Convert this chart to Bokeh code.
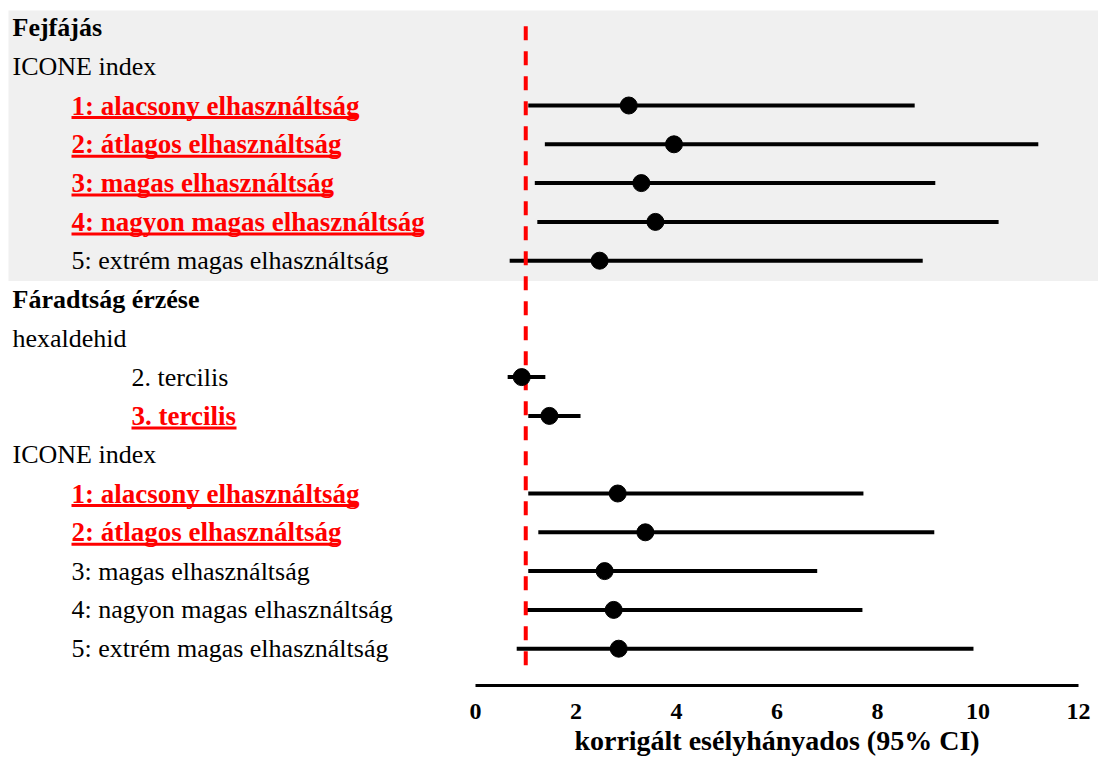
from bokeh.plotting import figure
from bokeh.layouts import row, column
from bokeh.models import Range1d, BoxAnnotation, FixedTicker, ColumnDataSource, Spacer
from bokeh.core.properties import value
from bokeh.embed import file_html
from bokeh.resources import INLINE

# ---------------- data ----------------
labels = [
    "Fejfájás", "ICONE index",
    "1: alacsony elhasználtság", "2: átlagos elhasználtság",
    "3: magas elhasználtság", "4: nagyon magas elhasználtság",
    "5: extrém magas elhasználtság",
    "Fáradtság érzése", "hexaldehid", "2. tercilis", "3. tercilis",
    "ICONE index",
    "1: alacsony elhasználtság", "2: átlagos elhasználtság",
    "3: magas elhasználtság", "4: nagyon magas elhasználtság",
    "5: extrém magas elhasználtság",
]
# label kind: h = bold header, g = group, i = item, t = tercile item
kinds = ["h", "g", "i", "i", "i", "i", "i", "h", "g", "t", "t", "g", "i", "i", "i", "i", "i"]
significant = [False, False, True, True, True, True, False,
               False, False, False, True, False, True, True, False, False, False]

est_rows = [2, 3, 4, 5, 6, 9, 10, 12, 13, 14, 15, 16]
odds_ratio = [3.05, 3.95, 3.30, 3.58, 2.47, 0.92, 1.47, 2.83, 3.38, 2.57, 2.75, 2.85]
ci_low = [1.05, 1.38, 1.18, 1.23, 0.68, 0.64, 1.05, 1.05, 1.25, 1.05, 0.98, 0.82]
ci_high = [8.74, 11.20, 9.15, 10.41, 8.90, 1.39, 2.09, 7.72, 9.13, 6.80, 7.70, 9.91]

x_ticks = [0, 2, 4, 6, 8, 10, 12]
reference_value = 1
x_title = "korrigált esélyhányados (95% CI)"

# ---------------- layout ----------------
FIG_W = 1098
MAIN_H = 683
AXIS_H = 79
AXIS_BORDER = 77
X0_PX = 475.0          # page pixel of x = 0
PX_PER_UNIT = 50.25
AXIS_LEFT = 455        # where the axis panel starts
x_start = -X0_PX / PX_PER_UNIT
x_end = (FIG_W - X0_PX) / PX_PER_UNIT
ROW_PX = 38.8
ROW0_PX = 27.4
ROW_TOP = -ROW0_PX / ROW_PX
ROW_BOTTOM = ROW_TOP + MAIN_H / ROW_PX

FONT = "Liberation Serif"
RED = "#ff0000"

p = figure(width=FIG_W, height=MAIN_H,
           x_range=Range1d(x_start, x_end),
           y_range=Range1d(ROW_BOTTOM, ROW_TOP),
           output_backend="svg", toolbar_location=None,
           x_axis_type=None, y_axis_type=None,
           min_border_left=0, min_border_right=0, min_border_top=0,
           min_border_bottom=0)
p.outline_line_color = None
p.grid.visible = False
p.background_fill_color = "white"
p.border_fill_color = "white"

# grey band for the first outcome block
p.add_layout(BoxAnnotation(top=-0.45, bottom=6.52, left=8 / PX_PER_UNIT + x_start,
                           fill_color="#f0f0f0", fill_alpha=1.0, line_color=None,
                           level="underlay"))

# labels
indent_px = {"h": 12, "g": 12, "i": 71, "t": 131}
size_px = {True: "27px", False: "26px"}
lab_x = [x_start + indent_px[k] / PX_PER_UNIT for k in kinds]
lab_color = [RED if s else "black" for s in significant]
lab_style = ["bold" if (k == "h" or s) else "normal" for k, s in zip(kinds, significant)]
lab_size = [size_px[s] for s in significant]
src_lab = ColumnDataSource(dict(x=lab_x, y=list(range(len(labels))), text=labels,
                                color=lab_color, style=lab_style, size=lab_size))
p.text(x="x", y="y", text="text", source=src_lab, text_color="color",
       text_font_style="style", text_font=value(FONT), text_font_size="size",
       text_baseline="middle", text_align="left")

# underline for the significant labels (length in pixels, matched to the text)
underline_px = {"1: alacsony elhasználtság": 286, "2: átlagos elhasználtság": 267,
                "3: magas elhasználtság": 260, "4: nagyon magas elhasználtság": 351,
                "3. tercilis": 105}
ul_x0, ul_x1, ul_y = [], [], []
for i, (t, s) in enumerate(zip(labels, significant)):
    if s:
        ul_x0.append(lab_x[i])
        ul_x1.append(lab_x[i] + underline_px[t] / PX_PER_UNIT)
        ul_y.append(i + 12.0 / ROW_PX)
p.segment(x0=ul_x0, x1=ul_x1, y0=ul_y, y1=ul_y, line_color=RED, line_width=3)

# confidence intervals
src = ColumnDataSource(dict(row=est_rows, est=odds_ratio, lo=ci_low, hi=ci_high))
p.segment(x0="lo", x1="hi", y0="row", y1="row", source=src,
          line_color="black", line_width=4)

# reference line at OR = 1
p.segment(x0=[reference_value], x1=[reference_value], y0=[-0.04], y1=[16.69],
          line_color=RED, line_width=4, line_dash="14 11")

# point estimates
p.scatter(x="est", y="row", source=src, size=17, fill_color="black", line_color="black")

# ---------- x axis panel (same x scale, placed under the plot) ----------
axis_w = FIG_W - AXIS_LEFT
a = figure(width=axis_w, height=AXIS_H,
           x_range=Range1d((AXIS_LEFT - X0_PX) / PX_PER_UNIT, x_end),
           y_range=Range1d(0, 1),
           output_backend="svg", toolbar_location=None, y_axis_type=None,
           min_border_left=0, min_border_right=0, min_border_top=0,
           min_border_bottom=AXIS_BORDER)
a.outline_line_color = None
a.grid.visible = False
a.background_fill_color = "white"
a.border_fill_color = "white"

ax = a.xaxis[0]
ax.bounds = (x_ticks[0], x_ticks[-1])
ax.ticker = FixedTicker(ticks=x_ticks)
ax.axis_line_width = 3
ax.axis_line_color = "black"
ax.major_tick_line_color = None
ax.minor_tick_line_color = None
ax.major_tick_out = 0
ax.major_tick_in = 0
ax.major_label_standoff = 18
ax.major_label_text_font = FONT
ax.major_label_text_font_style = "bold"
ax.major_label_text_font_size = "24px"
ax.major_label_text_color = "black"
ax.axis_label = x_title
ax.axis_label_standoff = 3
ax.axis_label_text_font = FONT
ax.axis_label_text_font_style = "bold"
ax.axis_label_text_font_size = "28px"
ax.axis_label_text_color = "black"

layout = column(p, row(Spacer(width=AXIS_LEFT, height=AXIS_H), a))
open("out.html", "w").write(file_html(layout, INLINE))
